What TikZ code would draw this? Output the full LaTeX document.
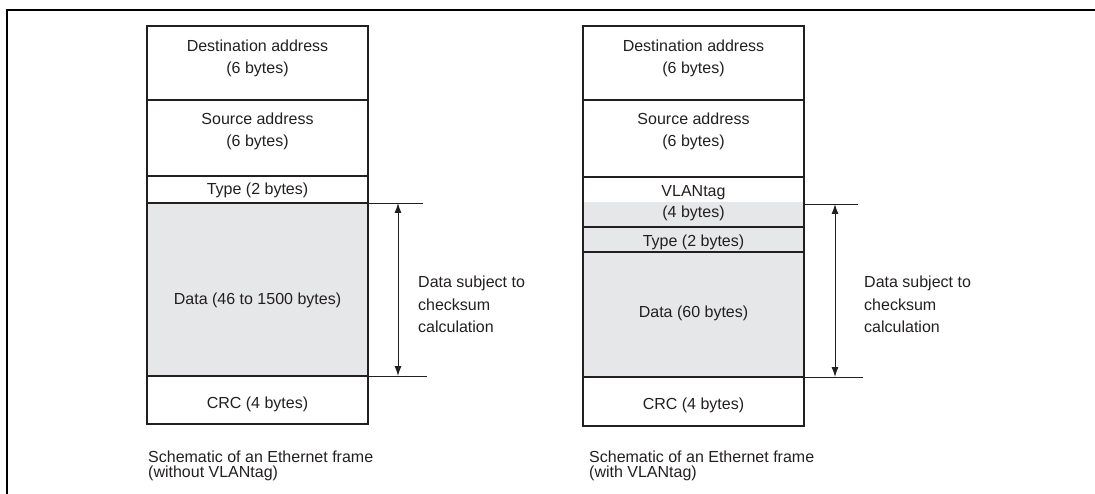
\documentclass[tikz,border=0pt]{standalone}
\usepackage{fontspec}
\setmainfont{Liberation Sans}
\usetikzlibrary{arrows.meta}
\definecolor{cellgray}{HTML}{E6E7E8}
\definecolor{ink}{HTML}{231F20}
\tikzset{
  cell/.style={draw=ink, line width=1.8pt, anchor=north west, inner sep=0pt, outer sep=0pt},
  txt/.style={anchor=base, inner sep=0pt, text=ink, font=\fontsize{16}{22}\selectfont},
  ltxt/.style={anchor=base west, inner sep=0pt, text=ink, font=\fontsize{16}{22}\selectfont},
  extline/.style={draw=ink, line width=0.9pt},
  dimarrow/.style={draw=ink, line width=1pt, {Latex[length=10pt,width=7pt]}-{Latex[length=10pt,width=7pt]}},
}
\begin{document}
\begin{tikzpicture}[x=1pt,y=-1pt]
\useasboundingbox (0,0) rectangle (1095,494);
% frame border
\draw[line width=2.6pt, black] (7,494) -- (7,10) -- (1095,10);

% ---------- left frame ----------
\node[cell, fill=cellgray, minimum width=221pt, minimum height=173pt] (data1) at (147,203) {};
\node[cell, minimum width=221pt, minimum height=74pt] (dst1) at (147,26) {};
\node[cell, minimum width=221pt, minimum height=76pt] (src1) at (147,100) {};
\node[cell, minimum width=221pt, minimum height=27pt] (typ1) at (147,176) {};
\node[cell, minimum width=221pt, minimum height=48pt] (crc1) at (147,376) {};

\node[txt] (t1a) at (257.5,52) {Destination address};
\node[txt] (t1b) at (257.5,74) {(6 bytes)};
\node[txt] (t1c) at (257.5,125) {Source address};
\node[txt] (t1d) at (257.5,147) {(6 bytes)};
\node[txt] (t1e) at (257.5,195) {Type (2 bytes)};
\node[txt] (t1f) at (257.5,305) {Data (46 to 1500 bytes)};
\node[txt] (t1g) at (257.5,408) {CRC (4 bytes)};

\coordinate (e1t) at (423,203);
\coordinate (e1b) at (427,376);
\draw[extline] (data1.north east) -- (e1t);
\draw[extline] (data1.south east) -- (e1b);
\coordinate (a1t) at (398,203);
\coordinate (a1b) at (398,376);
\draw[dimarrow] (a1t) -- (a1b);

\node[ltxt] (l1a) at (418,288) {Data subject to};
\node[ltxt] (l1b) at (418,311) {checksum};
\node[ltxt] (l1c) at (418,333) {calculation};

\node[ltxt] (c1a) at (148,462) {Schematic of an Ethernet frame};
\node[ltxt] (c1b) at (148,477) {(without VLANtag)};

% ---------- right frame ----------
\fill[cellgray] (583,202) rectangle (804,377);
\node[cell, minimum width=221pt, minimum height=74pt] (dst2) at (583,26) {};
\node[cell, minimum width=221pt, minimum height=77pt] (src2) at (583,100) {};
\node[cell, minimum width=221pt, minimum height=50pt] (vlan2) at (583,177) {};
\node[cell, minimum width=221pt, minimum height=25pt] (typ2) at (583,227) {};
\node[cell, minimum width=221pt, minimum height=125pt] (data2) at (583,252) {};
\node[cell, minimum width=221pt, minimum height=49pt] (crc2) at (583,377) {};

\node[txt] (t2a) at (693.5,52) {Destination address};
\node[txt] (t2b) at (693.5,74) {(6 bytes)};
\node[txt] (t2c) at (693.5,125) {Source address};
\node[txt] (t2d) at (693.5,147) {(6 bytes)};
\node[txt] (t2e) at (693.5,197) {VLANtag};
\node[txt] (t2f) at (693.5,218) {(4 bytes)};
\node[txt] (t2g) at (693.5,247) {Type (2 bytes)};
\node[txt] (t2h) at (693.5,318) {Data (60 bytes)};
\node[txt] (t2i) at (693.5,409) {CRC (4 bytes)};

\coordinate (s2) at (804,204);
\coordinate (e2t) at (858,204);
\coordinate (e2b) at (863,377);
\draw[extline] (s2) -- (e2t);
\draw[extline] (data2.south east) -- (e2b);
\coordinate (a2t) at (835,204);
\coordinate (a2b) at (835,377);
\draw[dimarrow] (a2t) -- (a2b);

\node[ltxt] (l2a) at (864,288) {Data subject to};
\node[ltxt] (l2b) at (864,311) {checksum};
\node[ltxt] (l2c) at (864,333) {calculation};

\node[ltxt] (c2a) at (589,462) {Schematic of an Ethernet frame};
\node[ltxt] (c2b) at (589,477) {(with VLANtag)};
\end{tikzpicture}
\end{document}
